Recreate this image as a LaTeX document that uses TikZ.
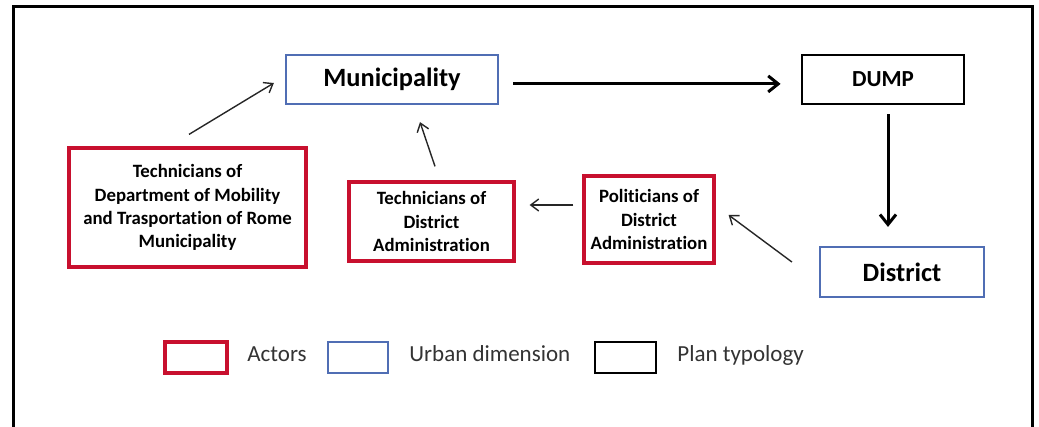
\documentclass[tikz,border=0pt]{standalone}
\usepackage{fontspec}
\setmainfont{Carlito}[Ligatures=NoCommon]
\usetikzlibrary{positioning, calc, arrows.meta}
\definecolor{actred}{RGB}{200,16,46}
\definecolor{urbblue}{RGB}{80,110,180}

\begin{document}
\begin{tikzpicture}[x=0.5pt, y=-0.5pt,
    actor/.style={draw=actred, line width=1.6pt, inner sep=0pt, align=center, font=\bfseries\fontsize{9.4}{11.6}\selectfont},
    urban/.style={draw=urbblue, line width=1.1pt, inner sep=0pt, font=\bfseries\fontsize{13.2}{15}\selectfont},
    plan/.style={draw=black, line width=1.4pt, inner sep=0pt, font=\bfseries\fontsize{11.5}{13}\selectfont},
    legtext/.style={anchor=base west, inner sep=0pt, text=black!80, font=\fontsize{11.5}{13}\selectfont},
    thinarr/.style={-{Straight Barb[length=4pt,width=6pt]}, line width=0.7pt, black!85},
    thickarr/.style={-{Straight Barb[length=5pt,width=8pt]}, line width=1.5pt}]
    \useasboundingbox (0,0) rectangle (1039,427);
    \draw[line width=1.5pt] (13,440) -- (13,7) -- (1032,7) -- (1032,440);

    \node[urban, minimum width=106pt, minimum height=24.5pt] (muni) at (392,79.5) {Municipality};
    \node[plan, minimum width=81pt, minimum height=24.5pt] (dump) at (883,79.5) {DUMP};
    \node[urban, minimum width=82pt, minimum height=25pt] (district) at (902,272) {District};
    \node[actor, minimum width=65pt, minimum height=43.5pt] (polit) at (649,219.5) {Politicians of\\District\\Administration};
    \node[actor, minimum width=82.5pt, minimum height=39.5pt] (techdist) at (431.5,221.5) {Technicians of\\District\\Administration};
    \node[actor, minimum width=118.5pt, minimum height=59.5pt] (techdept) at (187.5,207.5) {Technicians of\\Department of Mobility\\and Trasportation of Rome\\Municipality};

    \draw[thickarr, shorten <=7pt, shorten >=10pt] ([yshift=-2.2pt]muni.east) -- ([yshift=-2.2pt]dump.west);
    \draw[thickarr, shorten <=4.5pt, shorten >=9.5pt] ([xshift=2.5pt]dump.south) -- ([xshift=2.5pt]dump.south |- district.north);
    \draw[thinarr] ($(district.west)+(-27,-10)$) -- ($(polit.east)+(13,-4.5)$);
    \draw[thinarr] ($(polit.west)+(-9,-14.5)$) -- ($(techdist.east)+(14,-16.5)$);
    \draw[thinarr] ($(techdist.north)+(3.5,-14)$) -- ($(muni.south)+(28,17)$);
    \draw[thinarr] ($(techdept.north)+(1.5,-12)$) -- ($(muni.west)+(-11,3.5)$);

    % legend
    \node[actor, minimum width=31pt, minimum height=15.5pt] (legact) at (196,357.5) {};
    \node[legtext] (legacttxt) at (247,362) {Actors};
    \node[urban, minimum width=30pt, minimum height=15.5pt] (legurb) at (358,357.5) {};
    \node[legtext] (legurbtxt) at (409,362) {Urban dimension};
    \node[plan, minimum width=30.5pt, minimum height=15.5pt] (legplan) at (625.5,357.5) {};
    \node[legtext] (legplantxt) at (677,362) {Plan typology};
\end{tikzpicture}
\end{document}
